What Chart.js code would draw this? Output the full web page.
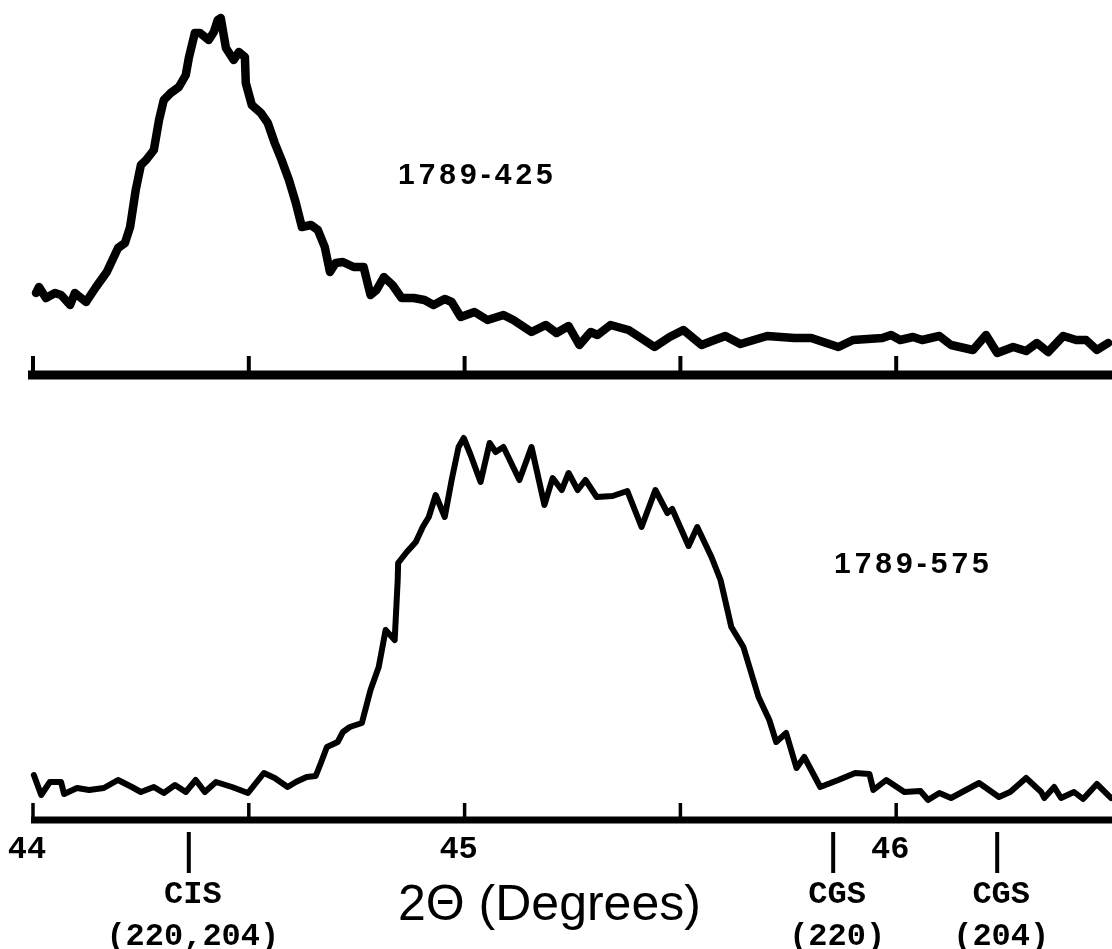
<!DOCTYPE html>
<html>
<head>
<meta charset="utf-8">
<script src="https://cdn.jsdelivr.net/npm/chart.js@4.4.1/dist/chart.umd.min.js"></script>
<style>
    html, body { margin: 0; padding: 0; background: #fff; overflow: hidden; }
    #page { position: relative; width: 1112px; height: 949px; }
    canvas { position: absolute; left: 0; }
    #topChart { top: 0; }
    #bottomChart { top: 400px; }
    .lbl { position: absolute; line-height: 1; color: #000; white-space: nowrap; }
    .sample { font-family: "Liberation Sans", Arial, sans-serif; font-weight: bold; font-size: 30px; letter-spacing: 4px; }
    .mono { font-family: "Liberation Mono", "Courier New", monospace; font-weight: bold; font-size: 32px; transform: translateX(-50%); }
    .axisTitle { font-family: "Liberation Sans", Arial, sans-serif; font-size: 50px; }
</style>
</head>
<body>
<div id="page">
    <canvas id="topChart" width="1112" height="380"></canvas>
    <canvas id="bottomChart" width="1112" height="549"></canvas>
    <div class="lbl sample" style="left:398px; top:159px;">1789-425</div>
    <div class="lbl sample" style="left:834px; top:548px;">1789-575</div>
    <div class="lbl axisTitle" style="left:398px; top:878px;">2Θ (Degrees)</div>
    <div id="labels"></div>
</div>
<script>
// 2-theta axis
const xMin = 44;
const xMax = 46.5;
const axisTicks = [44, 44.5, 45, 45.5, 46];
const tickLabelValues = [44, 45, 46];
const tickLabels = ['44', '45', '46'];

// reference reflections marked under the axis
const refAngles = [44.361, 45.854, 46.234];
const refPhases = ['CIS', 'CGS', 'CGS'];
const refHkl = ['(220,204)', '(220)', '(204)'];

// sample 1789-425 (top trace)
const topAngle = [44.007, 44.014, 44.030, 44.051, 44.065, 44.086, 44.097, 44.123, 44.146, 44.171,
    44.197, 44.213, 44.225, 44.238, 44.250, 44.262, 44.280, 44.292, 44.303, 44.319,
    44.338, 44.354, 44.361, 44.375, 44.387, 44.407, 44.419, 44.428, 44.435, 44.447,
    44.465, 44.477, 44.491, 44.493, 44.507, 44.528, 44.544, 44.560, 44.576, 44.593,
    44.609, 44.623, 44.644, 44.660, 44.676, 44.688, 44.701, 44.718, 44.743, 44.766,
    44.782, 44.796, 44.813, 44.833, 44.854, 44.882, 44.907, 44.928, 44.954, 44.970,
    44.991, 45.023, 45.053, 45.090, 45.113, 45.155, 45.188, 45.213,
    45.241, 45.266, 45.292, 45.308, 45.338, 45.363, 45.380, 45.405, 45.440, 45.475,
    45.507, 45.549, 45.579, 45.604, 45.639, 45.701, 45.764, 45.803, 45.866, 45.900,
    45.968, 45.988, 46.009, 46.039, 46.060, 46.100, 46.127, 46.178, 46.208, 46.234,
    46.271, 46.301, 46.326, 46.352, 46.387, 46.417, 46.440, 46.465, 46.491];
const topCounts = [81, 87, 76, 81, 79, 69, 81, 72, 87, 102,
    126, 131, 147, 184, 209, 214, 224, 254, 274, 281,
    287, 299, 316, 341, 341, 334, 342, 354, 356, 326,
    314, 322, 317, 291, 269, 261, 251, 231, 214, 194,
    171, 147, 149, 144, 127, 102, 111, 112, 107, 107,
    79, 84, 97, 89, 76, 76, 74, 69, 75, 72,
    57, 62, 54, 59, 54, 42, 49, 41,
    48, 29, 42, 39, 49, 46, 44, 37, 27, 37,
    44, 29, 34, 38, 30, 38, 36, 36, 27, 34,
    36, 39, 34, 37, 34, 38, 29, 24, 39, 21,
    27, 23, 31, 22, 38, 34, 34, 24, 31];

// sample 1789-575 (bottom trace)
const bottomAngle = [44.002, 44.019, 44.039, 44.065, 44.072, 44.102, 44.130, 44.164, 44.197, 44.229,
    44.250, 44.280, 44.303, 44.329, 44.354, 44.377, 44.398, 44.424, 44.461, 44.498,
    44.535, 44.560, 44.590, 44.609, 44.634, 44.655, 44.667, 44.681, 44.706, 44.718,
    44.734, 44.762, 44.782, 44.801, 44.817, 44.838, 44.845, 44.846, 44.866, 44.887,
    44.903, 44.917, 44.933, 44.954, 44.970, 44.986, 44.998, 45.014, 45.037, 45.058,
    45.072, 45.090, 45.127, 45.155, 45.185, 45.204, 45.225, 45.241, 45.262, 45.280,
    45.306, 45.343, 45.377, 45.410, 45.442, 45.470, 45.481, 45.519, 45.539, 45.572,
    45.593, 45.618, 45.646, 45.681, 45.706, 45.722, 45.745, 45.769, 45.787, 45.824,
    45.866, 45.905, 45.938, 45.947, 45.977, 46.019, 46.056, 46.074, 46.100, 46.127,
    46.192, 46.238, 46.264, 46.301, 46.336, 46.343, 46.366, 46.382, 46.412, 46.433,
    46.465, 46.498];
const bottomCounts = [45, 25, 38, 38, 26, 32, 30, 32, 40, 33,
    28, 33, 27, 35, 28, 40, 28, 38, 33, 27,
    47, 42, 33, 38, 43, 44, 57, 73, 78, 88,
    93, 97, 130, 153, 190, 180, 240, 257, 268, 278,
    293, 303, 325, 303, 340, 373, 382, 365, 338, 377,
    368, 373, 340, 373, 315, 342, 330, 347, 330, 340,
    323, 324, 329, 293, 330, 307, 311, 274, 293, 263,
    240, 193, 173, 123, 100, 78, 87, 52, 63, 33,
    40, 47, 46, 30, 40, 28, 29, 20, 27, 22,
    37, 23, 28, 42, 28, 22, 33, 22, 28, 21,
    36, 22];

// draws the thick baseline with upward ticks, plus reflection markers
const baseAxis = {
    id: 'baseAxis',
    afterDatasetsDraw(chart, args, opts) {
        const ctx = chart.ctx;
        const x = chart.scales.x;
        const y0 = chart.scales.y.getPixelForValue(0) + opts.offset;
        ctx.save();
        ctx.strokeStyle = '#000';
        ctx.lineCap = 'butt';

        ctx.lineWidth = opts.lineWidth;
        ctx.beginPath();
        ctx.moveTo(x.getPixelForValue(xMin) - opts.lead, y0);
        ctx.lineTo(chart.width, y0);
        ctx.stroke();

        ctx.lineWidth = opts.tickWidth;
        axisTicks.forEach(t => {
            const px = x.getPixelForValue(t);
            ctx.beginPath();
            ctx.moveTo(px, y0);
            ctx.lineTo(px, y0 - opts.tickLength);
            ctx.stroke();
        });

        if (opts.markers) {
            ctx.lineWidth = 4;
            refAngles.forEach(a => {
                const px = x.getPixelForValue(a);
                ctx.beginPath();
                ctx.moveTo(px, y0 + 12);
                ctx.lineTo(px, y0 + 53);
                ctx.stroke();
            });
        }
        ctx.restore();
    }
};

function makeChart(id, angles, counts, yMax, padding, lineWidth, axisOpts) {
    const points = angles.map((a, i) => ({ x: a, y: counts[i] }));
    return new Chart(document.getElementById(id), {
        type: 'line',
        data: {
            datasets: [{
                data: points,
                borderColor: '#000',
                borderWidth: lineWidth,
                borderJoinStyle: 'round',
                borderCapStyle: 'round',
                pointRadius: 0,
                tension: 0,
                fill: false,
                clip: false
            }]
        },
        options: {
            responsive: false,
            animation: false,
            layout: { padding: padding },
            plugins: {
                legend: { display: false },
                tooltip: { enabled: false },
                baseAxis: axisOpts
            },
            scales: {
                x: { type: 'linear', min: xMin, max: xMax, display: false },
                y: { min: 0, max: yMax, display: false }
            }
        },
        plugins: [baseAxis]
    });
}

const topChart = makeChart('topChart', topAngle, topCounts, 360,
    { top: 14, bottom: 6, left: 33, right: 0 }, 8.5,
    { offset: 1, lineWidth: 9, tickWidth: 4, tickLength: 19, lead: 5, markers: false });

const bottomChart = makeChart('bottomChart', bottomAngle, bottomCounts, 400,
    { top: 20, bottom: 129, left: 33, right: 0 }, 6,
    { offset: 0, lineWidth: 7, tickWidth: 3.5, tickLength: 17, lead: 2, markers: true });

// labels under the bottom axis, placed through the chart's x scale
const labels = document.getElementById('labels');
const xs = bottomChart.scales.x;
function addLabel(text, value, shift, top) {
    const el = document.createElement('div');
    el.className = 'lbl mono';
    el.textContent = text;
    el.style.left = (xs.getPixelForValue(value) + shift) + 'px';
    el.style.top = top + 'px';
    labels.appendChild(el);
}
tickLabelValues.forEach((v, i) => addLabel(tickLabels[i], v, -6, 834));
refAngles.forEach((a, i) => {
    addLabel(refPhases[i], a, 4, 879);
    addLabel(refHkl[i], a, 4, 921);
});
</script>
</body>
</html>
